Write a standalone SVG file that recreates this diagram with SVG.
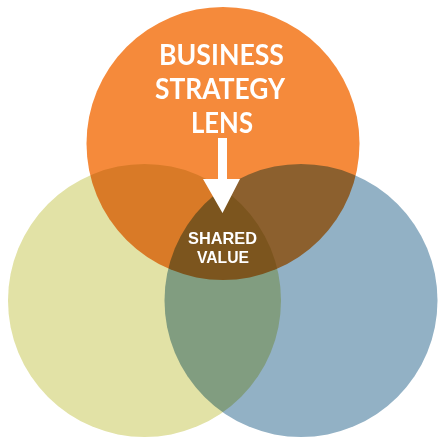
<svg xmlns="http://www.w3.org/2000/svg" width="438" height="438" viewBox="0 0 438 438">
<style>
.c{mix-blend-mode:multiply}
.t{font-weight:bold;fill:#fff;text-anchor:middle}
.big{font-family:Lato,"Liberation Sans",sans-serif;font-size:28px}
.small{font-family:"Liberation Sans",Arial,sans-serif;font-size:17px}
</style>
<rect width="438" height="438" fill="#fff"/>
<g id="circles">
<g id="yellow"><circle class="c" cx="144.5" cy="300.5" r="136.5" fill="#E2E2A6"/></g>
<g id="blue"><circle class="c" cx="301" cy="300.5" r="136.5" fill="#92B1C5"/></g>
<g id="orange"><circle class="c" cx="223" cy="143.5" r="136.5" fill="#F58A3B"/></g>
</g>
<g id="label-lens">
<text class="t big" x="221.5" y="65" textLength="125" lengthAdjust="spacingAndGlyphs">BUSINESS</text>
<text class="t big" x="220" y="99" textLength="130" lengthAdjust="spacingAndGlyphs">STRATEGY</text>
<text class="t big" x="222" y="133" textLength="62" lengthAdjust="spacingAndGlyphs">LENS</text>
</g>
<g id="connectors">
<path d="M218 138H227V179H240L222.5 213L203 179H218Z" fill="#fff"/>
</g>
<g id="label-shared">
<text class="t small" x="222.5" y="244" textLength="69" lengthAdjust="spacingAndGlyphs">SHARED</text>
<text class="t small" x="223" y="263" textLength="52" lengthAdjust="spacingAndGlyphs">VALUE</text>
</g>
</svg>
